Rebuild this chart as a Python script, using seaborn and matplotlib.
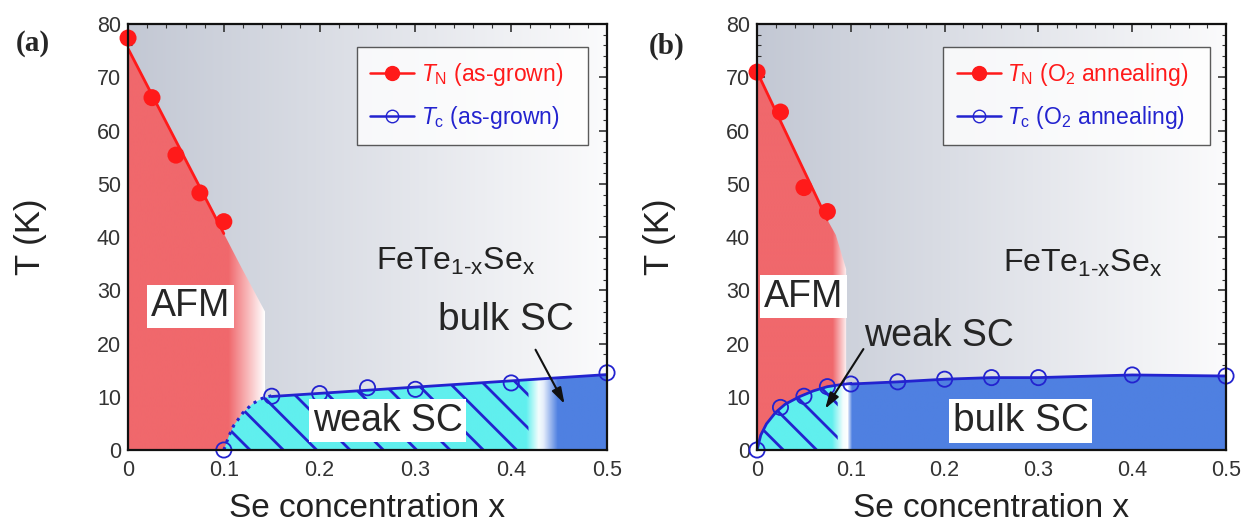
import numpy as np
import pandas as pd
import matplotlib
matplotlib.use("Agg")
import matplotlib.pyplot as plt
import matplotlib.ticker as ticker
from matplotlib.patches import Polygon
from matplotlib.colors import to_rgb
import seaborn as sns

# ---- data ----
# (a) as-grown
xa_tn = [0.0, 0.025, 0.05, 0.075, 0.1]
ta_tn = [77.4, 66.2, 55.4, 48.3, 42.9]
xa_tc = [0.1, 0.15, 0.2, 0.25, 0.3, 0.4, 0.5]
ta_tc = [0.0, 10.1, 10.6, 11.7, 11.4, 12.6, 14.5]
# dotted onset of weak SC (a)
xa_onset = [0.1, 0.105, 0.11, 0.12, 0.13, 0.14, 0.15]
ta_onset = [0.0, 2.5, 4.5, 7.0, 8.7, 9.7, 10.2]
# AFM boundary beyond the last T_N point (a)
xa_afm_edge = [0.118, 0.143, 0.143]
ta_afm_edge = [34.4, 26.0, 0.0]

# (b) O2 annealing
xb_tn = [0.0, 0.025, 0.05, 0.075]
tb_tn = [71.0, 63.5, 49.3, 44.8]
xb_tc = [0.0, 0.025, 0.05, 0.075, 0.1, 0.15, 0.2, 0.25, 0.3, 0.4, 0.5]
tb_tc = [0.0, 8.0, 10.1, 11.9, 12.4, 12.8, 13.3, 13.6, 13.6, 14.1, 13.9]
# smooth T_c boundary of the weak-SC dome (b)
xb_dome = [0.0, 0.004, 0.01, 0.02, 0.03, 0.045, 0.06, 0.075, 0.09, 0.1]
tb_dome = [0.0, 2.8, 4.9, 7.1, 8.6, 10.0, 11.1, 11.9, 12.3, 12.5]
xb_afm_edge = [0.084, 0.095, 0.095]
tb_afm_edge = [40.4, 34.0, 0.0]

RED = "#f0686c"
CYAN = "#60efee"
BLUE = "#4f80e1"
LINE_RED = "#ff1a1a"
LINE_BLUE = "#2323cf"

sns.set_theme(style="ticks")
plt.rcParams["font.family"] = ["Liberation Sans", "DejaVu Sans"]
plt.rcParams["mathtext.fontset"] = "custom"
plt.rcParams["mathtext.rm"] = "Liberation Sans"
plt.rcParams["mathtext.it"] = "Liberation Sans:italic"
plt.rcParams["hatch.linewidth"] = 2.0


def grad_fill(ax, xs, ts, stops, zorder=1):
    """Fill polygon (xs, ts) with a horizontal colour gradient given by stops [(x, color), ...]."""
    poly = Polygon(np.column_stack([xs, ts]), closed=True, fc="none", ec="none",
                   transform=ax.transData)
    ax.add_patch(poly)
    x0, x1 = min(xs), max(xs)
    gx = np.linspace(x0, x1, 600)
    sx = [s[0] for s in stops]
    cols = np.array([to_rgb(s[1]) for s in stops])
    img = np.stack([np.interp(gx, sx, cols[:, k]) for k in range(3)], axis=-1)[None, :, :]
    im = ax.imshow(img, extent=(x0, x1, 0, max(ts)), aspect="auto", origin="lower",
                   interpolation="bilinear", zorder=zorder)
    im.set_clip_path(poly)


def hatch_fill(ax, xs, ts, zorder=2):
    p = Polygon(np.column_stack([xs, ts]), closed=True, fc="none", ec=LINE_BLUE,
                lw=0, hatch="\\", zorder=zorder)
    ax.add_patch(p)


def background(ax):
    gx = np.linspace(0, 0.5, 300)
    c0, c1 = np.array(to_rgb("#c3c8d4")), np.array(to_rgb("#fbfbfc"))
    img = (c0[None, :] + (c1 - c0)[None, :] * gx[:, None] / 0.5)[None, :, :]
    ax.imshow(img, extent=(0, 0.5, 0, 80), aspect="auto", origin="lower",
              interpolation="bilinear", zorder=0)


def style_axes(ax):
    ax.set_xlim(0, 0.5)
    ax.set_ylim(0, 80)
    ax.xaxis.set_major_locator(ticker.MultipleLocator(0.1))
    ax.xaxis.set_minor_locator(ticker.MultipleLocator(0.02))
    ax.yaxis.set_major_locator(ticker.MultipleLocator(10))
    ax.yaxis.set_minor_locator(ticker.MultipleLocator(2))
    ax.xaxis.set_major_formatter(ticker.FuncFormatter(lambda v, p: "0" if v == 0 else f"{v:.1f}"))
    ax.tick_params(which="both", direction="in", top=True, right=True, color="#333333")
    ax.tick_params(which="major", length=6, width=1.2, labelsize=15.5, labelcolor="#333333")
    ax.tick_params(axis="y", which="major", pad=5)
    ax.tick_params(axis="x", which="major", pad=7)
    ax.tick_params(which="minor", length=3, width=0.8)
    for s in ax.spines.values():
        s.set_linewidth(1.6)
        s.set_color("#111111")
        s.set_zorder(10)
    ax.set_xlabel("Se concentration x", fontsize=24, color="#222222", labelpad=9)
    ax.set_ylabel("T (K)", fontsize=25, color="#222222", labelpad=36)


def series_lines(ax, x_tn, t_tn, x_tc, t_tc, lab_n, lab_c):
    df_n = pd.DataFrame({"x": x_tn, "T": t_tn})
    df_c = pd.DataFrame({"x": x_tc, "T": t_tc})
    sns.scatterplot(data=df_n, x="x", y="T", ax=ax, color=LINE_RED, s=150, edgecolor="none",
                    zorder=6, clip_on=False, legend=False)
    sns.scatterplot(data=df_c, x="x", y="T", ax=ax, s=120, facecolor="none", edgecolor=LINE_BLUE,
                    linewidth=1.3, zorder=6, clip_on=False, legend=False)
    ax.plot([], [], "-o", color=LINE_RED, mfc=LINE_RED, mec=LINE_RED, ms=10, lw=1.8, label=lab_n)
    ax.plot([], [], "-o", color=LINE_BLUE, mfc="none", mec=LINE_BLUE, ms=9, lw=1.8, label=lab_c)


fig = plt.figure(figsize=(12.48, 5.26), dpi=100)
ax_a = fig.add_axes([0.1026, 0.1445, 0.3838, 0.8095])
ax_b = fig.add_axes([0.6066, 0.1445, 0.3758, 0.8095])

# ---------------- panel (a) ----------------
ax = ax_a
background(ax)
ka = np.polyfit(xa_tn, ta_tn, 1)
xl = np.linspace(0, xa_tn[-1], 20)
afm_x = np.concatenate([[0], xl, xa_afm_edge])
afm_t = np.concatenate([[0], np.polyval(ka, xl), ta_afm_edge])
grad_fill(ax, afm_x, afm_t, [(0, RED), (0.105, RED), (0.143, "#ffffff")])
ax.plot(xl, np.polyval(ka, xl), color=LINE_RED, lw=2, zorder=5)

kc = np.polyfit(xa_tc[1:], ta_tc[1:], 1)
xr = np.linspace(xa_tc[1], xa_tc[-1], 20)
sc_x = np.concatenate([xa_onset, xr[1:], [0.5]])
sc_t = np.concatenate([ta_onset, np.polyval(kc, xr[1:]), [0]])
grad_fill(ax, sc_x, sc_t, [(0.1, CYAN), (0.415, CYAN), (0.428, "#f4fdfd"),
                           (0.433, "#e6eefb"), (0.448, BLUE), (0.5, BLUE)], zorder=2)
xh = np.linspace(xa_tc[1], 0.418, 20)
hatch_fill(ax, np.concatenate([xa_onset, xh[1:], [0.418]]),
           np.concatenate([ta_onset, np.polyval(kc, xh[1:]), [0]]), zorder=3)
ax.plot(xa_onset, ta_onset, ":", color=LINE_BLUE, lw=2.2, zorder=5)
ax.plot(xr, np.polyval(kc, xr), color=LINE_BLUE, lw=2, zorder=5)
series_lines(ax, xa_tn, ta_tn, xa_tc, ta_tc,
             r"$T_{\rm N}$ (as-grown)", r"$T_{\rm c}$ (as-grown)")

box = dict(boxstyle="square,pad=0.1", fc="white", ec="none")
ax.text(0.065, 27, "AFM", fontsize=27, ha="center", va="center", bbox=box, zorder=7)
ax.text(0.271, 5.5, "weak SC", fontsize=27, ha="center", va="center", bbox=box, zorder=7)
ax.text(0.394, 24.5, "bulk SC", fontsize=28, ha="center", va="center", zorder=7)
ax.annotate("", xy=(0.457, 8.2), xytext=(0.424, 19.3),
            arrowprops=dict(arrowstyle="-|>,head_length=0.8,head_width=0.25", color="#111111", lw=1.5),
            zorder=7)
ax.text(0.342, 35.5, r"FeTe$_{\rm 1\text{-}x}$Se$_{\rm x}$", fontsize=23, ha="center", va="center",
        color="#222222", zorder=7)

# ---------------- panel (b) ----------------
ax = ax_b
background(ax)
kb = np.polyfit(xb_tn, tb_tn, 1)
xl = np.linspace(0, xb_tn[-1], 20)
afm_x = np.concatenate([[0], xl, xb_afm_edge])
afm_t = np.concatenate([[0], np.polyval(kb, xl), tb_afm_edge])
grad_fill(ax, afm_x, afm_t, [(0, RED), (0.08, RED), (0.096, "#ffffff")])
ax.plot(xl, np.polyval(kb, xl), color=LINE_RED, lw=2, zorder=5)

x_split = 0.097
t_split = np.interp(x_split, xb_dome, tb_dome)
xs_l = [x for x in xb_dome if x < x_split]
ts_l = [t for x, t in zip(xb_dome, tb_dome) if x < x_split]
dome_x = np.concatenate([xs_l, [x_split, x_split]])
dome_t = np.concatenate([ts_l, [t_split, 0]])
grad_fill(ax, dome_x, dome_t, [(0, CYAN), (0.08, CYAN), (0.092, "#f4fdfd"), (x_split, "#ffffff")],
          zorder=2)
t_h = np.interp(0.086, xb_dome, tb_dome)
hatch_fill(ax, np.concatenate([[x for x in xs_l if x < 0.086], [0.086, 0.086]]),
           np.concatenate([[t for x, t in zip(xs_l, ts_l) if x < 0.086], [t_h, 0]]), zorder=3)
xs_r = [x for x in xb_tc if x > x_split]
ts_r = [t for x, t in zip(xb_tc, tb_tc) if x > x_split]
bulk_x = np.concatenate([[x_split], xs_r, [0.5, x_split]])
bulk_t = np.concatenate([[t_split], ts_r, [0, 0]])
grad_fill(ax, bulk_x, bulk_t, [(x_split, "#dfe8fa"), (0.101, BLUE), (0.5, BLUE)], zorder=2)
ax.plot(np.concatenate([xb_dome, xs_r]), np.concatenate([tb_dome, ts_r]),
        color=LINE_BLUE, lw=2, zorder=5)
series_lines(ax, xb_tn, tb_tn, xb_tc, tb_tc,
             r"$T_{\rm N}$ (O$_{\rm 2}$ annealing)", r"$T_{\rm c}$ (O$_{\rm 2}$ annealing)")

ax.text(0.05, 28.8, "AFM", fontsize=27, ha="center", va="center", bbox=box, zorder=7)
ax.text(0.281, 5.5, "bulk SC", fontsize=28, ha="center", va="center", bbox=box, zorder=7)
ax.text(0.194, 21.4, "weak SC", fontsize=27, ha="center", va="center", zorder=7)
ax.annotate("", xy=(0.071, 7.3), xytext=(0.115, 19.4),
            arrowprops=dict(arrowstyle="-|>,head_length=0.8,head_width=0.25", color="#111111", lw=1.5),
            zorder=7)
ax.text(0.347, 35.0, r"FeTe$_{\rm 1\text{-}x}$Se$_{\rm x}$", fontsize=23, ha="center", va="center",
        color="#222222", zorder=7)

for ax, x0, w in [(ax_a, 0.477, 0.483), (ax_b, 0.397, 0.569)]:
    style_axes(ax)
    leg = ax.legend(loc="upper left", bbox_to_anchor=(x0, 0.946, w, 0.0), mode="expand",
                    fontsize=16.5, frameon=True, fancybox=False, edgecolor="#333333",
                    handlelength=1.9, handletextpad=0.3, labelspacing=0.7, borderpad=0.6,
                    borderaxespad=0)
    leg.get_frame().set_linewidth(1.0)
    leg.set_zorder(8)
    for txt, c in zip(leg.get_texts(), [LINE_RED, LINE_BLUE]):
        txt.set_color(c)

fig.text(0.026, 0.918, "(a)", fontsize=21, fontweight="bold", family="Liberation Serif",
         ha="center", va="center")
fig.text(0.534, 0.912, "(b)", fontsize=21, fontweight="bold", family="Liberation Serif",
         ha="center", va="center")

fig.savefig("out.png", dpi=100)
